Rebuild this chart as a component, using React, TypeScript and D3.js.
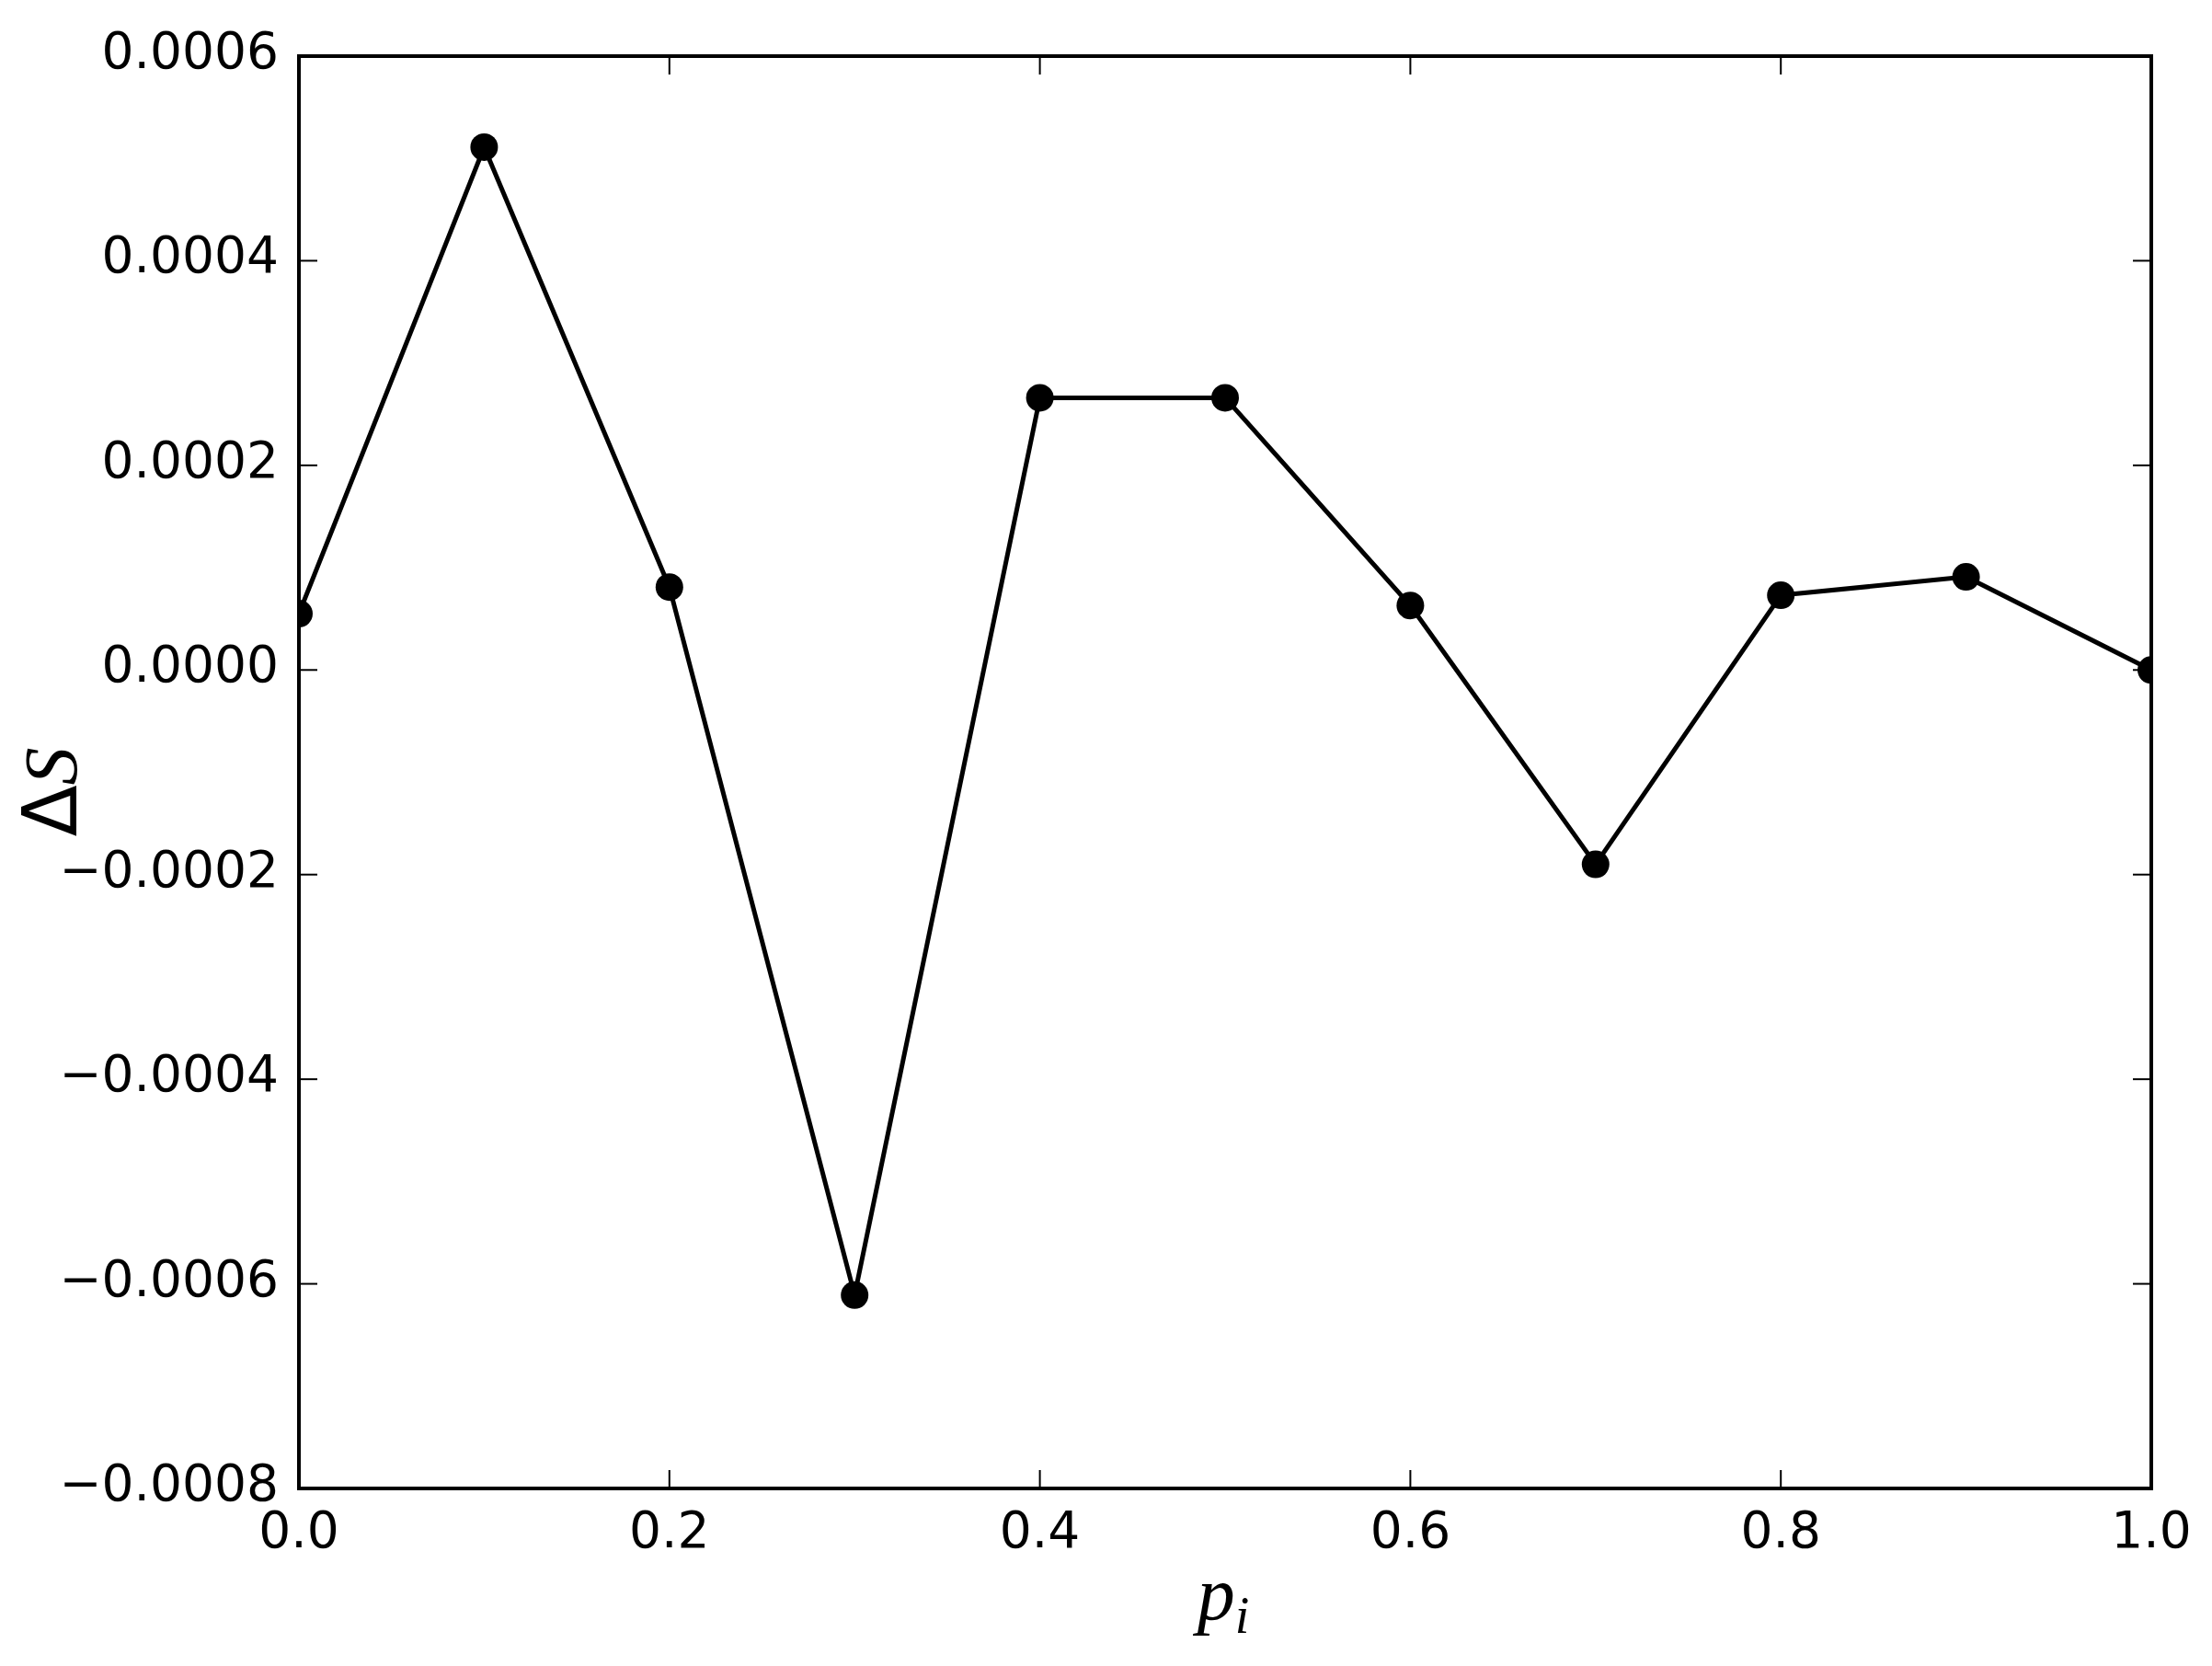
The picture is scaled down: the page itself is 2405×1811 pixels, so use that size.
import React from "react";
import * as d3 from "d3";

const pValues = [0.0, 0.1, 0.2, 0.3, 0.4, 0.5, 0.6, 0.7, 0.8, 0.9, 1.0];
const deltaS = [0.000055, 0.000511, 0.000081, -0.000611, 0.000266, 0.000266, 0.000063, -0.00019, 0.000073, 0.000091, 0.0];
const xTicks = [0.0, 0.2, 0.4, 0.6, 0.8, 1.0];
const yTicks = [-0.0008, -0.0006, -0.0004, -0.0002, 0.0, 0.0002, 0.0004, 0.0006];

const W = 2405;
const H = 1811;
const L = 325, R = 2339, T = 61, B = 1618;

export default function App() {
  const x = d3.scaleLinear().domain([0, 1]).range([L, R]);
  const y = d3.scaleLinear().domain([-0.0008, 0.0006]).range([B, T]);
  const pts: [number, number][] = pValues.map((p, i) => [p, deltaS[i]]);
  const line = d3.line<[number, number]>().x(d => x(d[0])).y(d => y(d[1]));
  const fmtY = (v: number) => {
    const s = Math.abs(v).toFixed(4);
    return (v < -1e-12 ? "\u2212" : "") + s;
  };
  const tickLen = 20;
  const font = "'DejaVu Sans', sans-serif";
  return (
    <svg width={W} height={H} style={{ position: "absolute", left: 0, top: 0, background: "#fff" }}>
      <rect x={0} y={0} width={W} height={H} fill="#fff" />
      <defs>
        <clipPath id="plotclip">
          <rect x={L} y={T} width={R - L} height={B - T} />
        </clipPath>
      </defs>
      {xTicks.map(t => (
        <g key={"xt" + t}>
          <line x1={x(t)} x2={x(t)} y1={B} y2={B - tickLen} stroke="#000" strokeWidth={2} />
          <line x1={x(t)} x2={x(t)} y1={T} y2={T + tickLen} stroke="#000" strokeWidth={2} />
          <text x={x(t)} y={1682} textAnchor="middle" fontFamily={font} fontSize={55} fill="#000">
            {t.toFixed(1)}
          </text>
        </g>
      ))}
      {yTicks.map(t => (
        <g key={"yt" + t}>
          <line x1={L} x2={L + tickLen} y1={y(t)} y2={y(t)} stroke="#000" strokeWidth={2} />
          <line x1={R} x2={R - tickLen} y1={y(t)} y2={y(t)} stroke="#000" strokeWidth={2} />
          <text x={303} y={y(t) + 13} textAnchor="end" fontFamily={font} fontSize={55} fill="#000">
            {fmtY(t)}
          </text>
        </g>
      ))}
      <g clipPath="url(#plotclip)">
        <path d={line(pts) || ""} fill="none" stroke="#000" strokeWidth={5} strokeLinejoin="round" />
        {pts.map((d, i) => (
          <circle key={i} cx={x(d[0])} cy={y(d[1])} r={15} fill="#000" />
        ))}
      </g>
      <rect x={L} y={T} width={R - L} height={B - T} fill="none" stroke="#000" strokeWidth={4} />
      <text x={1330} y={1760} textAnchor="middle" fontFamily="'Liberation Serif', serif" fontStyle="italic" fontSize={82} fill="#000">
        p<tspan fontSize={56} dy={15}>i</tspan>
      </text>
      <text transform={`translate(83, 861) rotate(-90)`} textAnchor="middle" fontSize={82} fill="#000">
        <tspan fontFamily="'DejaVu Sans', sans-serif">Δ</tspan>
        <tspan fontFamily="'Liberation Serif', serif" fontStyle="italic">S</tspan>
      </text>
    </svg>
  );
}
